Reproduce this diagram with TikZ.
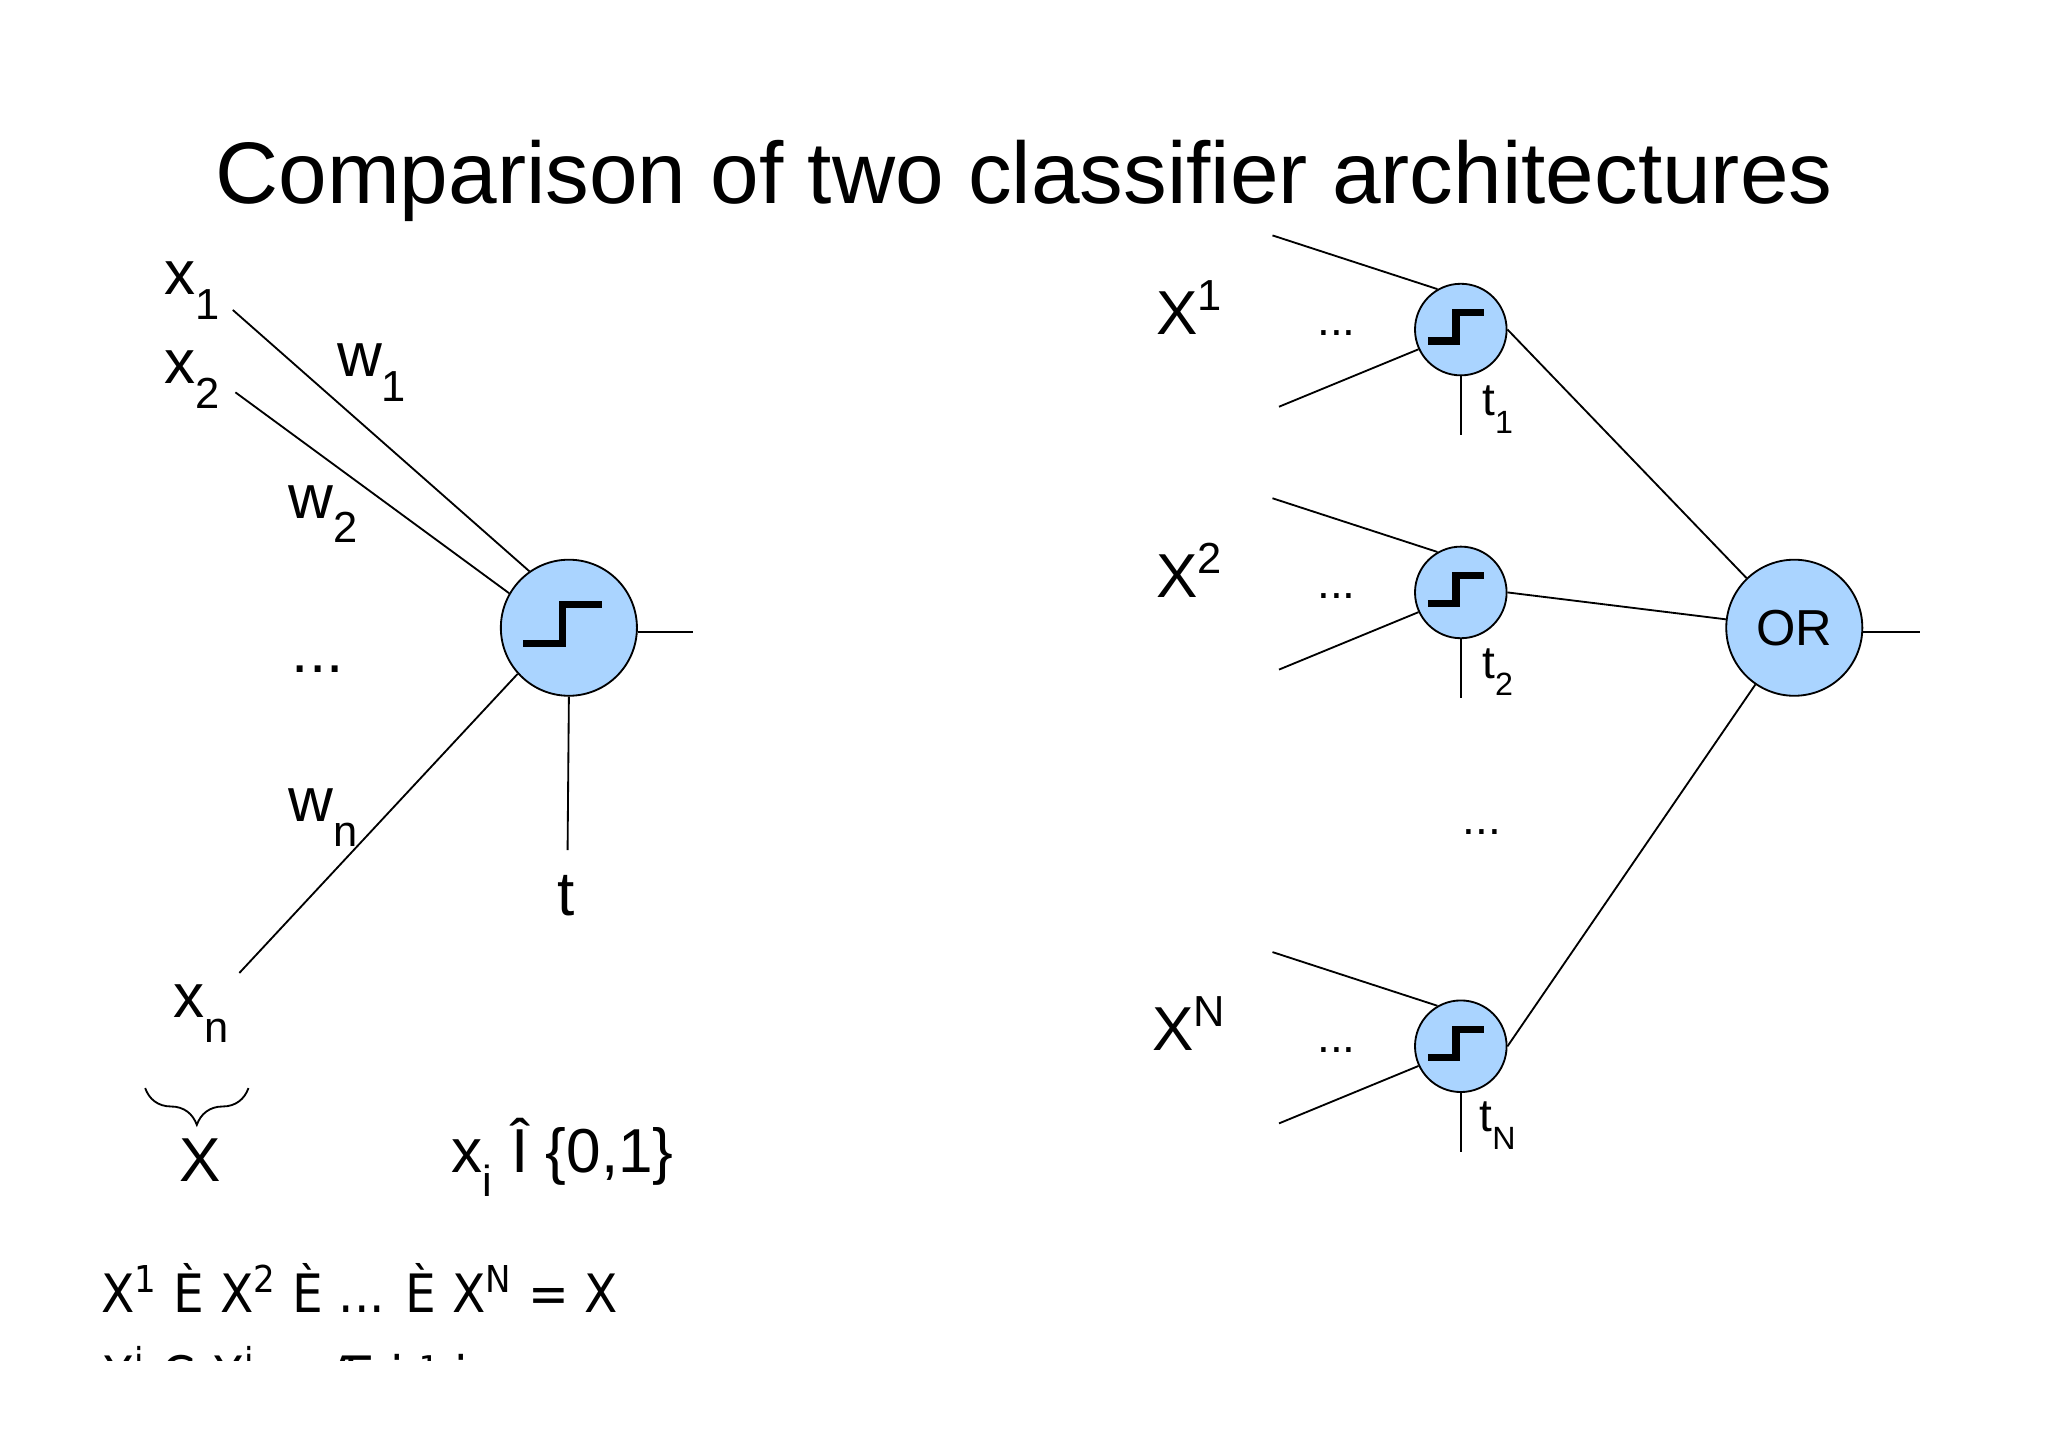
\documentclass[tikz,border=0pt]{standalone}
\usepackage{fontspec}
\setmainfont{Liberation Sans}
\newfontfamily\djv{DejaVu Sans}
\usetikzlibrary{positioning,decorations.pathreplacing,calc}
\definecolor{unitblue}{RGB}{170,212,255}
\tikzset{
  unit/.style={circle,draw,fill=unitblue,minimum size=#1,inner sep=0pt},
  lab/.style={font=\fontsize{13.5}{16}\selectfont},
  sml/.style={font=\fontsize{10}{12}\selectfont},
  wire/.style={thin},
}
\newcommand{\stepfn}[2]{% centre, scale
  \draw[line width=1.6pt] ($(#1)+(-35*#2,12*#2)$) -- ++(30*#2,0) -- ++(0,-30*#2) -- ++(30*#2,0);}
\newcommand{\lo}[1]{\raisebox{-0.45ex}{\textsubscript{#1}}}
\begin{document}
\begin{tikzpicture}[x=0.01cm,y=-0.01cm]
  \useasboundingbox (0,0) rectangle (1566,1106);
  \node[font=\fontsize{19}{22}\selectfont] (title) at (783,138) {Comparison of two classifier architectures};

  % single threshold unit
  \node[unit=1.04cm] (n) at (435,480) {};
  \stepfn{n}{1}
  \coordinate (nout) at (530,483);
  \coordinate (tend) at (434,650);
  \draw[wire] (n.east) ++(0,3) -- (nout);
  \draw[wire] (n.south) -- (tend);
  \node[lab] (t) at (433,685) {t};

  \coordinate (a1) at (178,237);
  \coordinate (a2) at (180,300);
  \coordinate (an) at (183,744);
  \draw[wire] (a1) -- (n.125);
  \draw[wire] (a2) -- (n.150);
  \draw[wire] (an) -- (n.222);
  \node[lab] (x1) at (148,222) {x\lo{1}};
  \node[lab] (x2) at (148,290) {x\lo{2}};
  \node[lab] (xn) at (155,775) {x\lo{n}};
  \node[lab] (w1) at (285,285) {w\lo{1}};
  \node[lab] (w2) at (248,393) {w\lo{2}};
  \node[lab] (wd) at (243,512) {...};
  \node[lab] (wn) at (248,625) {w\lo{n}};

  \draw[decorate,decoration={brace,amplitude=8pt,mirror}] (111,832) -- (190,832);
  \node[lab] (X) at (153,887) {X};
  \node[lab] (xi) at (430,885) {x\lo{i} Î \{0,1\}};

  % bottom text
  \node[font=\djv\fontsize{11.5}{13}\selectfont,anchor=west,xscale=0.92] (u1) at (66,985) {X\textsuperscript{1} È X\textsuperscript{2} È ... È X\textsuperscript{N} = X};
  \begin{scope}
    \clip (60,1020) rectangle (500,1040);
    \node[font=\djv\fontsize{11.5}{13}\selectfont,anchor=west,xscale=0.92] (u2) at (66,1052) {X\textsuperscript{i} Ç X\textsuperscript{j} = Æ i ¹ j};
  \end{scope}

  % OR of threshold units
  \node[unit=1.04cm,font=\fontsize{11}{13}\selectfont] (or) at (1372,480) {OR};
  \coordinate (orout) at (1468,483);
  \draw[wire] (or.east) ++(0,3) -- (orout);
  \foreach \nm/\y/\up/\dn in {a/252/1/1, b/453/2/2, c/800/N/N}{
    \node[unit=0.7cm] (\nm) at (1117,\y) {};
    \stepfn{\nm}{0.72}
    \coordinate (\nm i1) at (973,\y-72);
    \coordinate (\nm i2) at (978,\y+59);
    \coordinate (\nm t) at (1117,\y+81);
    \draw[wire] (\nm i1) -- (\nm.120);
    \draw[wire] (\nm i2) -- (\nm.205);
    \draw[wire] (\nm.south) -- (\nm t);
    \node[sml] (\nm lt) at (1146,\y+61) {t\lo{\dn}};
    \node[lab] (\nm X) at (910,\y-17) {X\textsuperscript{\up}};
    \node[sml] (\nm d) at (1022,\y+3) {...};
    \draw[wire] (\nm.east) -- (or);
  }
  \node[sml] (md) at (1133,636) {...};
\end{tikzpicture}
\end{document}
